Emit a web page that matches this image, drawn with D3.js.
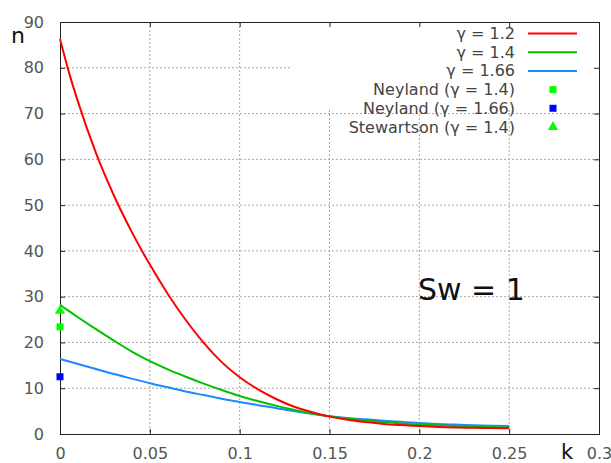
<!DOCTYPE html>
<html><head><meta charset="utf-8">
<script src="https://cdn.jsdelivr.net/npm/d3@7"></script>
<style>body{margin:0;background:#fff}svg{display:block}text{font-family:"DejaVu Sans",sans-serif}</style>
</head><body><svg id="c" width="611" height="463"></svg>
<script>
const kValues = [0,0.005,0.01,0.02,0.03,0.04,0.05,0.06,0.07,0.08,0.09,0.1,0.11,0.12,0.13,0.14,0.15,0.16,0.17,0.18,0.19,0.2,0.21,0.22,0.23,0.24,0.25];
const nGamma12 = [86.3,79.0,72.6,61.4,52.1,44.1,37.0,30.6,24.9,19.9,15.7,12.4,9.8,7.7,6.0,4.8,3.8,3.1,2.6,2.2,1.95,1.75,1.55,1.42,1.35,1.3,1.25];
const nGamma14 = [28.2,26.85,25.5,22.9,20.4,18.0,15.9,14.1,12.5,11.0,9.6,8.3,7.2,6.2,5.3,4.5,3.9,3.4,3.0,2.6,2.3,2.05,1.9,1.75,1.6,1.5,1.4];
const nGamma166 = [16.4,15.85,15.3,14.2,13.1,12.1,11.1,10.2,9.3,8.5,7.7,7.0,6.3,5.7,5.0,4.4,3.9,3.5,3.2,2.9,2.65,2.4,2.2,2.05,1.9,1.8,1.75];
const seriesNames = ["γ = 1.2","γ = 1.4","γ = 1.66"];
const seriesColors = ["#ff0000","#00c000","#1e88ff"];
const pointNames = ["Neyland (γ = 1.4)","Neyland (γ = 1.66)","Stewartson (γ = 1.4)"];
const pointK = [0,0,0];
const pointN = [23.4,12.5,26.9];
const pointColors = ["#00ff00","#0000ff","#00ff00"];
const pointShapes = ["square","square","triangle"];
const xTicks = [0,0.05,0.1,0.15,0.2,0.25,0.3];
const yTicks = [0,10,20,30,40,50,60,70,80,90];

const svg = d3.select("#c");
const L=60,R=599,T=22,B=434;
const x = d3.scaleLinear().domain([0,0.3]).range([L,R]);
const y = d3.scaleLinear().domain([0,90]).range([B,T]);

// grid
const g = svg.append("g");
g.selectAll(".vg").data(xTicks.slice(1,-1)).enter().append("line")
 .attr("x1",d=>x(d)).attr("x2",d=>x(d)).attr("y1",T).attr("y2",B)
 .attr("stroke","#a8a8a8").attr("stroke-dasharray","2,2");
g.selectAll(".hg").data(yTicks.slice(1,-1)).enter().append("line")
 .attr("x1",L).attr("x2",R).attr("y1",d=>y(d)).attr("y2",d=>y(d))
 .attr("stroke","#a8a8a8").attr("stroke-dasharray","2,2");
// legend backdrop hides grid
svg.append("rect").attr("x",x(0.1284)).attr("y",T).attr("width",R-x(0.1284)).attr("height",y(71.2)-T).attr("fill","#fff");

// axes
const ax = svg.append("g").attr("transform",`translate(0,${B})`)
 .call(d3.axisBottom(x).tickValues(xTicks).tickSize(-5).tickPadding(14).tickFormat(d3.format("~g")));
const ay = svg.append("g").attr("transform",`translate(${L},0)`)
 .call(d3.axisLeft(y).tickValues(yTicks).tickSize(-5).tickPadding(16));
const axT = svg.append("g").attr("transform",`translate(0,${T})`)
 .call(d3.axisTop(x).tickValues(xTicks).tickSize(-5).tickFormat(""));
const ayR = svg.append("g").attr("transform",`translate(${R},0)`)
 .call(d3.axisRight(y).tickValues(yTicks).tickSize(-5).tickFormat(""));
[ax,ay,axT,ayR].forEach(a=>{
  a.select(".domain").attr("stroke","#222");
  a.selectAll(".tick line").attr("stroke","#222");
  a.selectAll(".tick text").attr("fill","#555").style("font-size","16px").style("font-family","DejaVu Sans");
});

// lines
const allSeries=[nGamma12,nGamma14,nGamma166];
const line = d3.line().x((d,i)=>x(kValues[i])).y(d=>y(d)).curve(d3.curveMonotoneX);
[2,1,0].forEach(s=>{
  svg.append("path").datum(allSeries[s]).attr("d",line).attr("fill","none")
   .attr("stroke",seriesColors[s]).attr("stroke-width",2);
});

// points
function drawPoint(sel,shape,cx,cy,color){
  if(shape==="square") sel.append("rect").attr("x",cx-3.5).attr("y",cy-3.5).attr("width",7).attr("height",7).attr("fill",color);
  else sel.append("path").attr("d",d3.symbol().type(d3.symbolTriangle).size(45)()).attr("transform",`translate(${cx},${cy})`).attr("fill",color);
}
pointN.forEach((v,i)=>drawPoint(svg,pointShapes[i],x(pointK[i]),y(v),pointColors[i]));

// legend
const lg = svg.append("g");
const rowY = i=>33.5+i*18.7;
seriesNames.forEach((n,i)=>{
  lg.append("text").attr("x",515).attr("y",rowY(i)+5.5).attr("text-anchor","end").attr("fill","#444").style("font-size","16px").text(n);
  lg.append("line").attr("x1",528).attr("x2",577).attr("y1",rowY(i)).attr("y2",rowY(i)).attr("stroke",seriesColors[i]).attr("stroke-width",2);
});
pointNames.forEach((n,j)=>{
  const i=j+3;
  lg.append("text").attr("x",515).attr("y",rowY(i)+5.5).attr("text-anchor","end").attr("fill","#444").style("font-size","16px").text(n);
  drawPoint(lg,pointShapes[j],553,rowY(i),pointColors[j]);
});

// labels
svg.append("text").attr("x",11).attr("y",43).attr("fill","#111").style("font-size","22px").text("n");
svg.append("text").attr("x",561).attr("y",459).attr("fill","#111").style("font-size","21px").text("k");
svg.append("text").attr("x",418).attr("y",300).attr("fill","#111").style("font-size","30px").text("Sw = 1");
</script></body></html>
